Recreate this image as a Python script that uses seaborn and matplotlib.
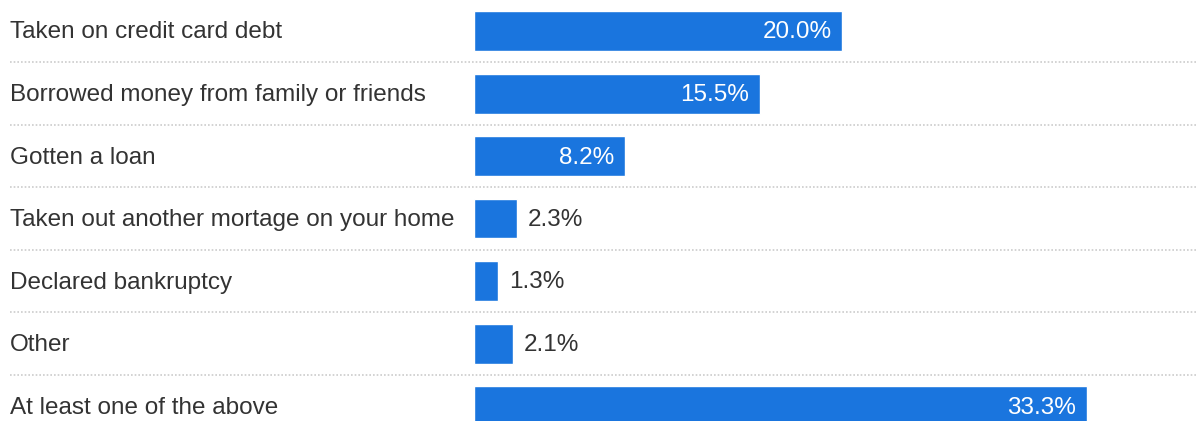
import matplotlib
matplotlib.use("Agg")
import matplotlib.pyplot as plt
import matplotlib.transforms as mtransforms
import seaborn as sns
import pandas as pd

categories = [
    "Taken on credit card debt",
    "Borrowed money from family or friends",
    "Gotten a loan",
    "Taken out another mortage on your home",
    "Declared bankruptcy",
    "Other",
    "At least one of the above",
]
values = [20.0, 15.5, 8.2, 2.3, 1.3, 2.1, 33.3]
value_labels = ["20.0%", "15.5%", "8.2%", "2.3%", "1.3%", "2.1%", "33.3%"]

df = pd.DataFrame({"category": categories, "value": values})

sns.set_theme(style="white")
plt.rcParams["font.family"] = ["Liberation Sans", "DejaVu Sans"]

W, H = 1198, 421
fig = plt.figure(figsize=(W / 100, H / 100), dpi=100)
ax = fig.add_axes([0, 0, 1, 1])

bar_color = "#1a75de"
sns.barplot(data=df, y="category", x="value", orient="h", color=bar_color,
            saturation=1, width=0.64, ax=ax)

px_per_unit = 18.4
x0_px = 474.5
ax.set_xlim(-x0_px / px_per_unit, (W - x0_px) / px_per_unit)
pitch = 62.5
c0 = 31
ax.set_ylim((H - c0) / pitch, -c0 / pitch)

ax.set_axis_off()

blend = mtransforms.blended_transform_factory(ax.transAxes, ax.transData)
fs = 17.5
base_off = 7.5 / pitch
for i, (cat, v, lab) in enumerate(zip(categories, values, value_labels)):
    ax.text(10 / W, i + base_off, cat, transform=blend, ha="left", va="baseline",
            fontsize=fs, color="#333333")
    if v > 5:
        ax.text(v - 11 / px_per_unit, i + base_off, lab, ha="right", va="baseline",
                fontsize=fs, color="white")
    else:
        ax.text(v + 11 / px_per_unit, i + base_off, lab, ha="left", va="baseline",
                fontsize=fs, color="#333333")
    if i < len(categories) - 1:
        ax.axhline(i + 0.5, xmin=10 / W, xmax=1, color="#cccccc",
                   linewidth=1.2, linestyle=(0, (1, 1.2)))

fig.savefig("out.png", dpi=100)
